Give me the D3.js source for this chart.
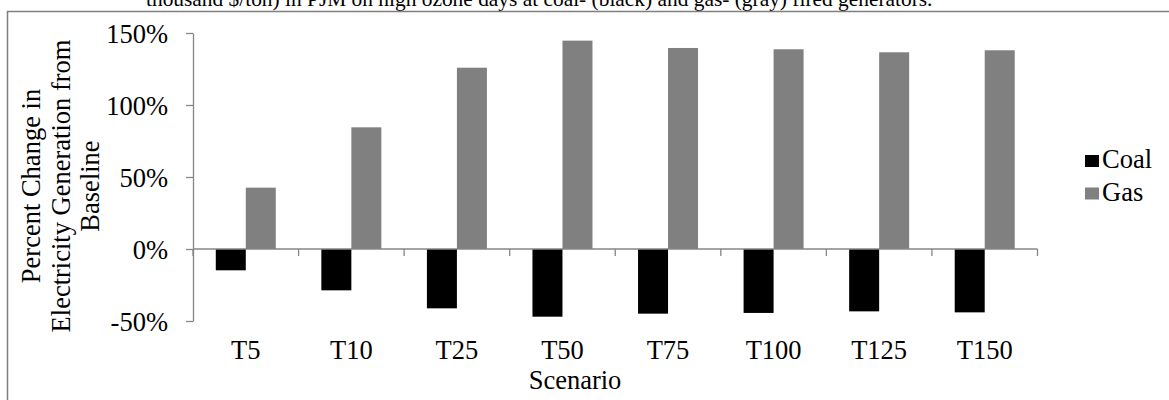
<!DOCTYPE html>
<html>
<head>
<meta charset="utf-8">
<script src="https://cdn.jsdelivr.net/npm/d3@7"></script>
<style>
  html, body { margin: 0; padding: 0; background: #fff; }
  svg { display: block; }
  text { font-family: "Liberation Serif", "Times New Roman", serif; fill: #000; }
</style>
</head>
<body>
<svg id="chart" width="1169" height="400"></svg>
<script>
// Scenario categories and percent change in generation by fuel
const categories = ["T5", "T10", "T25", "T50", "T75", "T100", "T125", "T150"];
const coalValues = [-14.8, -28.7, -41.2, -47.0, -44.9, -44.4, -43.3, -44.0];
const gasValues = [42.6, 84.5, 125.9, 144.7, 139.6, 138.7, 136.6, 138.0];
const seriesNames = ["Coal", "Gas"];
const seriesColors = ["#000000", "#808080"];
const yTickValues = [-50, 0, 50, 100, 150];
const titleText = "thousand $/ton) in PJM on high ozone days at coal- (black) and gas- (gray) fired generators.";
const yTitleLines = ["Percent Change in", "Electricity Generation from", "Baseline"];
const xTitle = "Scenario";

const svg = d3.select("#chart");
const axisColor = "#868686";
const fs = 26.5;

const plot = { left: 193, right: 1037.5, top: 33, bottom: 321 };

const x = d3.scaleBand().domain(categories).range([plot.left, plot.right]).padding(0);
const barWidth = 30;
const outer = (x.bandwidth() - barWidth * seriesNames.length) / 2 / barWidth;
const xSub = d3.scaleBand().domain(seriesNames).range([0, x.bandwidth()])
  .paddingInner(0).paddingOuter(outer);
const y = d3.scaleLinear().domain([-50, 150]).range([plot.bottom, plot.top]);

// caption line above the frame
svg.append("text")
  .attr("x", 146).attr("y", 6)
  .attr("font-size", 21.4)
  .text(titleText);

// chart frame (top and left edges visible)
svg.append("path")
  .attr("d", `M7.5,400 V11.5 H1169`)
  .attr("fill", "none")
  .attr("stroke", "#7f7f7f")
  .attr("stroke-width", 1.5);

// bars
const rows = categories.map((c, i) => ({ cat: c, vals: [coalValues[i], gasValues[i]] }));
const groups = svg.append("g").selectAll("g").data(rows).join("g")
  .attr("transform", d => `translate(${x(d.cat)},0)`);
groups.selectAll("rect")
  .data(d => d.vals.map((v, k) => ({ name: seriesNames[k], v, color: seriesColors[k] })))
  .join("rect")
  .attr("x", d => xSub(d.name))
  .attr("width", xSub.bandwidth())
  .attr("y", d => Math.min(y(d.v), y(0)))
  .attr("height", d => Math.abs(y(d.v) - y(0)))
  .attr("fill", d => d.color);

// y axis
const yAxis = svg.append("g")
  .attr("transform", `translate(${plot.left},0)`)
  .call(d3.axisLeft(y).tickValues(yTickValues).tickSize(7).tickSizeOuter(0).tickPadding(18)
    .tickFormat(d => d + "%"));
yAxis.select(".domain").attr("stroke", axisColor).attr("stroke-width", 1.3);
yAxis.selectAll(".tick line").attr("stroke", axisColor).attr("stroke-width", 1.3);
yAxis.selectAll(".tick text").attr("font-size", fs).attr("font-family", "Liberation Serif")
  .attr("fill", "#000").attr("dy", "0.34em");

// x axis line at zero with category boundary ticks
const zeroY = y(0);
svg.append("line")
  .attr("x1", plot.left).attr("x2", plot.right)
  .attr("y1", zeroY).attr("y2", zeroY)
  .attr("stroke", axisColor).attr("stroke-width", 1.3);
const bounds = categories.map(c => x(c)).concat([x(categories[categories.length - 1]) + x.bandwidth()]);
svg.append("g").selectAll("line").data(bounds).join("line")
  .attr("x1", d => d).attr("x2", d => d)
  .attr("y1", zeroY).attr("y2", zeroY + 7)
  .attr("stroke", axisColor).attr("stroke-width", 1.3);

// category labels at the bottom of the plot
svg.append("g").selectAll("text").data(categories).join("text")
  .attr("x", d => x(d) + x.bandwidth() / 2)
  .attr("y", 359)
  .attr("text-anchor", "middle")
  .attr("font-size", fs)
  .text(d => d);

// axis titles
svg.append("text")
  .attr("x", 575).attr("y", 389)
  .attr("text-anchor", "middle")
  .attr("font-size", fs)
  .text(xTitle);

const yTitle = svg.append("text")
  .attr("transform", "translate(0,186) rotate(-90)")
  .attr("text-anchor", "middle")
  .attr("font-size", fs);
yTitleLines.forEach((line, i) => {
  yTitle.append("tspan").attr("x", 0).attr("y", 40 + i * 29.5).text(line);
});

// legend
const legend = svg.append("g").selectAll("g").data(seriesNames).join("g")
  .attr("transform", (d, i) => `translate(1085,${168 + i * 32.5})`);
legend.append("rect")
  .attr("x", 0).attr("y", -13).attr("width", 14).attr("height", 12)
  .attr("fill", (d, i) => seriesColors[i]);
legend.append("text")
  .attr("x", 17).attr("y", 0)
  .attr("font-size", fs)
  .text(d => d);
</script>
</body>
</html>
